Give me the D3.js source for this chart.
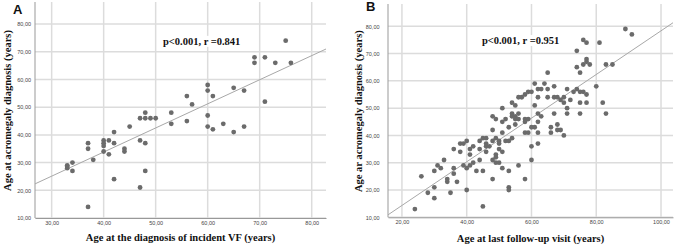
<!DOCTYPE html>
<html>
<head>
<meta charset="utf-8">
<script src="https://cdn.jsdelivr.net/npm/d3@7"></script>
<style>
  body { margin: 0; background: #fff; }
  svg { display: block; }
  .tick-label { font-family: "Liberation Sans", Arial, sans-serif; font-size: 5.5px; fill: #444; }
  .title { font-family: "Liberation Serif", "Times New Roman", serif; font-weight: bold; font-size: 10.5px; fill: #111; }
  .panel-letter { font-family: "Liberation Sans", Arial, sans-serif; font-weight: bold; font-size: 13px; fill: #111; }
</style>
</head>
<body>
<div id="chart"></div>
<script>
// Panel A: age at incident VF vs age at acromegaly diagnosis
const aVF   = [33, 33, 33, 34, 34, 37, 37, 37, 38, 40, 40, 40, 40, 41, 41, 42, 42, 42, 44, 44,
               45, 47, 47, 47, 48, 48, 48, 48, 49, 50, 53, 53, 56, 56, 57, 60, 60, 60, 60, 61,
               61, 63, 65, 65, 67, 67, 69, 69, 71, 71, 73, 75, 76];
const aAcro = [28, 29, 28.5, 30, 27, 37, 35, 14, 31, 38, 37, 36, 34, 38, 33, 41, 37, 24, 35, 34,
               43, 46, 38, 21, 48, 46, 37, 27, 46, 46, 48, 44, 54, 45, 51, 58, 56, 47, 43, 54,
               42, 44, 57, 41, 56, 43, 68, 66, 68, 52, 66, 74, 66];

// Panel B: age at last follow-up vs age at acromegaly diagnosis
const bFollow = [24, 26, 28, 30, 30, 30, 31, 32, 33, 34, 34, 35, 36, 36, 36, 37, 38, 38, 39, 39,
                 40, 40, 40, 41, 41, 41, 42, 42, 43, 44, 44, 44, 45, 45, 45, 46, 46, 46, 46, 47,
                 48, 48, 48, 48, 48, 49, 49, 49, 49, 49, 50, 50, 50, 50, 51, 51, 51, 51, 51, 52,
                 52, 53, 53, 53, 53, 53, 54, 54, 54, 54, 55, 55, 55, 55, 56, 56, 56, 56, 57, 58,
                 58, 58, 58, 58, 59, 59, 59, 60, 60, 60, 60, 61, 61, 61, 62, 62, 62, 62, 62, 62,
                 63, 63, 64, 65, 65, 65, 66, 66, 67, 67, 67, 68, 68, 68, 69, 69, 70, 70, 70, 71,
                 71, 71, 72, 73, 74, 74, 74, 75, 75, 75, 75, 76, 76, 76, 77, 77, 77, 77, 77, 78,
                 80, 81, 82, 83, 83, 85, 89, 91];
const bAcro   = [13, 25, 19, 27, 21, 17, 29, 28, 31, 24, 23, 19, 35, 28, 26, 23, 34, 37, 37, 29,
                 38, 28, 20, 29, 33, 35, 36, 30, 27, 38, 35, 31, 39, 27, 14, 39, 37, 34, 36, 36,
                 47, 42, 31, 24, 38, 46, 39, 33, 32, 30, 30, 38, 37, 35, 50, 45, 41, 34, 28, 46,
                 38, 43, 38, 27, 21, 20, 52, 48, 47, 39, 51, 47, 46, 44, 54, 48, 46, 29, 54, 55,
                 46, 45, 41, 24, 56, 46, 41, 56, 43, 36, 31, 59, 51, 43, 54, 57, 48, 45, 41, 37,
                 57, 47, 59, 63, 57, 54, 43, 41, 58, 54, 48, 54, 44, 42, 53, 42, 54, 52, 40, 57,
                 50, 48, 53, 56, 57, 71, 65, 63, 56, 52, 48, 75, 66, 56, 74, 68, 67, 55, 52, 66,
                 58, 74, 52, 66, 48, 66, 79, 77];

// fit lines: [intercept, slope]
const fitA = [-1.0, 0.87];
const fitB = [-1.66, 0.80];

const width = 676, height = 248;

const svg = d3.select("#chart")
    .append("svg")
    .attr("width", width)
    .attr("height", height);

const comma = d => d3.format(".2f")(d).replace(".", ",");

function drawPanel(p) {
    const g = svg.append("g");

    let x = d3.scaleLinear().domain(p.xDomain).range([p.left, p.right]);
    let y = d3.scaleLinear().domain(p.yDomain).range([p.bottom, p.top]);

    // grid
    g.append("g").selectAll("line")
        .data(p.xTicks)
        .join("line")
        .attr("x1", d => x(d)).attr("x2", d => x(d))
        .attr("y1", p.gridTop).attr("y2", p.bottom)
        .attr("stroke", "#dcdcdc").attr("stroke-width", 1.5);

    g.append("g").selectAll("line")
        .data(p.yTicks)
        .join("line")
        .attr("x1", p.left).attr("x2", p.right)
        .attr("y1", d => y(d)).attr("y2", d => y(d))
        .attr("stroke", "#dcdcdc").attr("stroke-width", 1.5);

    // axes
    g.append("g")
        .attr("transform", `translate(0,${p.bottom})`)
        .call(d3.axisBottom(x).tickValues(p.xTicks).tickFormat(comma).tickSize(0).tickPadding(3))
        .call(a => a.select(".domain").attr("stroke", "#999"))
        .call(a => a.selectAll("text").attr("class", "tick-label").attr("fill", null));

    g.append("g")
        .attr("transform", `translate(${p.left},0)`)
        .call(d3.axisLeft(y).tickValues(p.yTicks).tickFormat(comma).tickSize(0).tickPadding(p.yPad))
        .call(a => a.select(".domain").attr("stroke", "#999").attr("d", `M0,${p.gridTop}V${p.bottom}`))
        .call(a => a.selectAll("text").attr("class", "tick-label").attr("fill", null));

    // fit line
    const x0 = p.xDomain[0], x1 = p.xDomain[1];
    g.append("line")
        .attr("x1", x(x0)).attr("y1", y(p.fit[0] + p.fit[1] * x0))
        .attr("x2", x(x1)).attr("y2", y(p.fit[0] + p.fit[1] * x1))
        .attr("stroke", "#a8a8a8").attr("stroke-width", 1);

    // points
    g.append("g").selectAll("circle")
        .data(p.xs.map((v, i) => [v, p.ys[i]]))
        .join("circle")
        .attr("cx", d => x(d[0]))
        .attr("cy", d => y(d[1]))
        .attr("r", 2.4)
        .attr("fill", "#6b6b6b");

    // stats annotation with white box behind
    let note = g.append("text")
        .attr("class", "title")
        .attr("x", x(p.note.x))
        .attr("y", y(p.note.y))
        .text(p.note.text);
    let bb = note.node().getBBox();
    g.insert("rect", "text.title")
        .attr("x", bb.x - 2).attr("y", bb.y)
        .attr("width", bb.width + 4).attr("height", bb.height)
        .attr("fill", "#fff");

    // axis titles
    g.append("text")
        .attr("class", "title")
        .attr("text-anchor", "middle")
        .attr("x", (p.left + p.right) / 2)
        .attr("y", p.xTitleY)
        .text(p.xTitle);

    g.append("text")
        .attr("class", "title")
        .attr("text-anchor", "middle")
        .attr("transform", `translate(${p.yTitleX},${(p.top + p.bottom) / 2}) rotate(-90)`)
        .text(p.yTitle);

    g.append("text")
        .attr("class", "panel-letter")
        .attr("x", p.letterX)
        .attr("y", p.letterY)
        .text(p.letter);
}

drawPanel({
    xs: aVF, ys: aAcro, fit: fitA,
    xDomain: [26.8, 82.75], yDomain: [10, 87.6],
    left: 35, right: 326, top: 3, bottom: 218, gridTop: 2, yPad: 4,
    xTicks: [30, 40, 50, 60, 70, 80], yTicks: [10, 20, 30, 40, 50, 60, 70, 80],
    xTitle: "Age at the diagnosis of incident VF (years)", xTitleY: 241,
    yTitle: "Age at acromegaly diagnosis (years)", yTitleX: 11,
    note: { x: 51.4, y: 72.5, text: "p<0.001, r =0.841" },
    letter: "A", letterX: 13, letterY: 13.5
});

drawPanel({
    xs: bFollow, ys: bAcro, fit: fitB,
    xDomain: [15.7, 103.7], yDomain: [10, 87.8],
    left: 388, right: 673, top: 5, bottom: 217.3, gridTop: 4, yPad: 8.5,
    xTicks: [20, 40, 60, 80, 100], yTicks: [10, 20, 30, 40, 50, 60, 70, 80],
    xTitle: "Age at last follow-up visit (years)", xTitleY: 242,
    yTitle: "Age ar acromegaly diagnosis (years)", yTitleX: 362,
    note: { x: 44.7, y: 73.5, text: "p<0.001, r =0.951" },
    letter: "B", letterX: 366, letterY: 11
});
</script>
</body>
</html>
